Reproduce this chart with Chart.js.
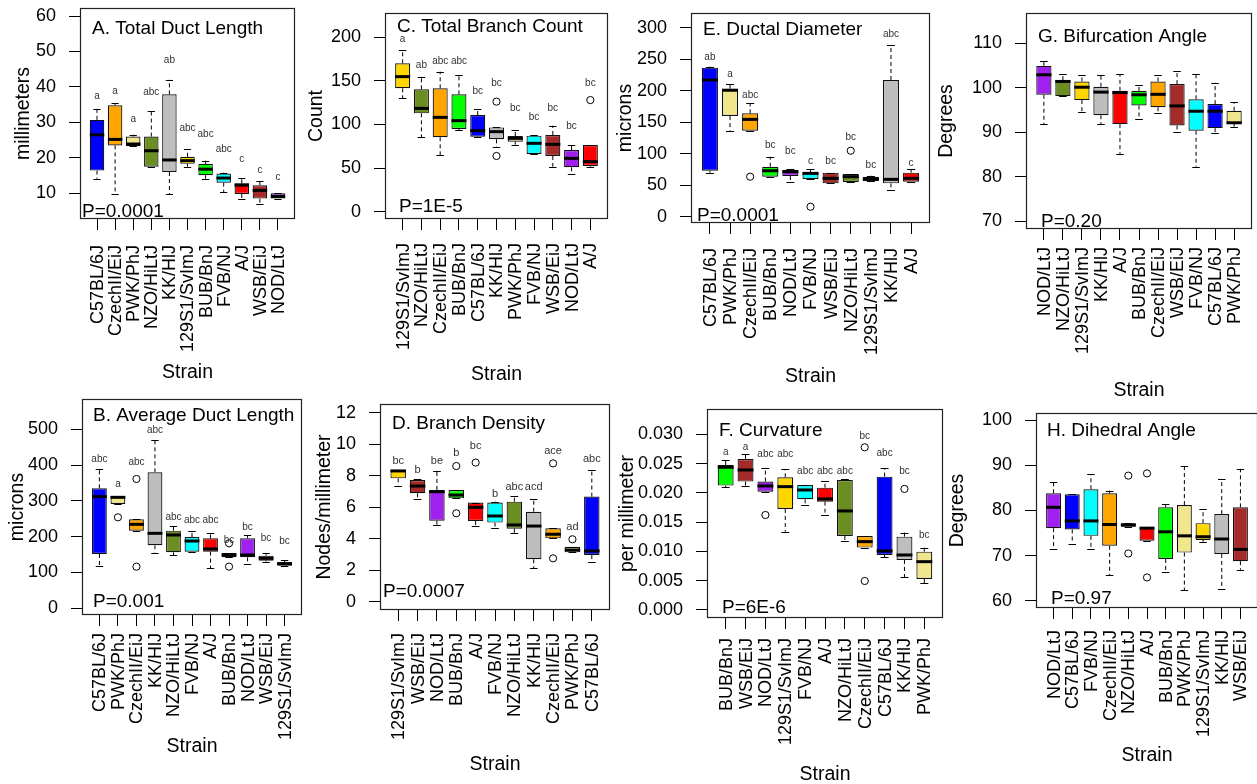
<!DOCTYPE html>
<html><head><meta charset="utf-8">
<script src="https://cdn.jsdelivr.net/npm/chart.js@4.4.1/dist/chart.umd.min.js"></script>
<style>
html,body{margin:0;padding:0;background:#fff;}
body{width:1257px;height:784px;overflow:hidden;position:relative;}
canvas{position:absolute;}
</style>
</head><body>
<script>
// ---------- DATA ----------
// A. Total Duct Length
const strainsA = ['C57BL/6J','CzechII/EiJ','PWK/PhJ','NZO/HiLtJ','KK/HlJ','129S1/SvImJ','BUB/BnJ','FVB/NJ','A/J','WSB/EiJ','NOD/LtJ'];
const lowA  = [14.1, 9.8, 23.3, 17.5, 9.8, 17.5, 14.1, 10.4, 8.3, 7.0, 8.5];
const q1A   = [16.4, 23.5, 23.3, 17.5, 16.0, 18.3, 15.1, 13.0, 9.8, 8.5, 8.5];
const medA  = [26.5, 25.2, 23.9, 22.0, 19.4, 19.2, 16.8, 14.3, 12.3, 10.8, 9.1];
const q3A   = [30.7, 34.8, 26.0, 26.0, 37.9, 20.3, 18.3, 15.6, 12.8, 12.3, 10.0];
const highA = [33.9, 35.4, 26.5, 33.1, 42.0, 22.4, 19.2, 15.8, 14.3, 13.4, 10.0];
const outA  = [[],[],[],[],[],[],[],[],[],[],[]];
const lettersA = ['a','a','a','abc','ab','abc','abc','abc','c','c','c'];
const letterYA = [37.5, 38.9, 30.9, 38.4, 47.6, 28.3, 26.6, 22.4, 19.6, 16.6, 14.5];
const ticksA = [10,20,30,40,50,60];

// C. Total Branch Count
const strainsC = ['129S1/SvImJ','NZO/HiLtJ','CzechII/EiJ','BUB/BnJ','C57BL/6J','KK/HlJ','PWK/PhJ','FVB/NJ','WSB/EiJ','NOD/LtJ','A/J'];
const lowC  = [130, 85.3, 65, 93.7, 85.3, 74.6, 76.9, 66.2, 51.6, 43.2, 51.6];
const q1C   = [141.5, 112.8, 85.3, 94.8, 86, 83, 80.3, 66.2, 63.9, 50.9, 52.4];
const medC  = [154.9, 118.5, 108.2, 104.4, 92.9, 91.8, 84.1, 78.4, 77.2, 61.2, 57.4];
const q3C   = [170.2, 140.3, 141.5, 134.6, 110.9, 96.7, 86.8, 87.2, 88, 70.7, 76.5];
const highC = [185.5, 154, 160.6, 156.8, 117.8, 96.7, 93.7, 88, 98.7, 76.5, 76.5];
const outC  = [[],[],[],[],[],[126.2,63.9],[],[],[],[],[128]];
const lettersC = ['a','ab','abc','abc','bc','bc','bc','bc','bc','bc','bc'];
const letterYC = [198, 167.9, 172.8, 172.8, 137.7, 147.2, 118.5, 108.2, 118.5, 98.3, 147.2];
const ticksC = [0,50,100,150,200];

// E. Ductal Diameter
const strainsE = ['C57BL/6J','PWK/PhJ','CzechII/EiJ','BUB/BnJ','NOD/LtJ','FVB/NJ','WSB/EiJ','NZO/HiLtJ','129S1/SvImJ','KK/HlJ','A/J'];
const lowE  = [70, 136.7, 136.7, 63.6, 55.6, 59.9, 53, 55.1, 56.7, 42.4, 55.6];
const q1E   = [73.1, 160, 136.7, 63.6, 64.7, 59.9, 53, 55.1, 56.7, 53, 55.6];
const medE  = [217.3, 201, 154.7, 73.1, 71.5, 68.9, 61, 63.6, 59.9, 59.4, 61];
const q3E   = [236.9, 203.5, 164.3, 79.5, 74.2, 70, 70, 67.8, 63.6, 217.3, 70];
const highE = [238.5, 211, 180.2, 95.4, 75.3, 75.3, 70, 67.8, 65.2, 272.9, 75.3];
const outE  = [[],[],[63.6],[],[],[15.9],[],[104.9],[],[],[]];
const lettersE = ['ab','a','abc','bc','bc','c','bc','bc','bc','abc','c'];
const letterYE = [253.3, 226.8, 193.4, 112.9, 103.3, 88.5, 88.5, 125.6, 81.1, 289.9, 84.8];
const ticksE = [0,50,100,150,200,250,300];

// G. Bifurcation Angle
const strainsG = ['NOD/LtJ','NZO/HiLtJ','129S1/SvImJ','KK/HlJ','A/J','BUB/BnJ','CzechII/EiJ','WSB/EiJ','FVB/NJ','C57BL/6J','PWK/PhJ'];
const lowG  = [91.8, 98.1, 94.6, 91.8, 85.1, 93.0, 94.4, 90.1, 82.2, 89.7, 91.2];
const q1G   = [98.4, 98.1, 97.2, 93.8, 91.8, 96.0, 95.6, 91.5, 90.3, 90.9, 91.8];
const medG  = [102.9, 101.4, 100.1, 99.0, 98.9, 98.4, 98.5, 95.9, 94.7, 94.7, 92.1];
const q3G   = [104.9, 101.7, 101.4, 100.2, 99.3, 99.3, 101.4, 100.8, 97.4, 96.3, 94.8];
const highG = [106.0, 103.1, 102.8, 102.9, 103.1, 100.5, 102.8, 103.7, 103.1, 101.1, 96.7];
const outG  = [[],[],[],[],[],[],[],[],[],[],[]];
const lettersG = [];
const letterYG = [];
const ticksG = [70,80,90,100,110];

// B. Average Duct Length
const strainsB = ['C57BL/6J','PWK/PhJ','CzechII/EiJ','KK/HlJ','NZO/HiLtJ','FVB/NJ','A/J','BUB/BnJ','NOD/LtJ','WSB/EiJ','129S1/SvImJ'];
const lowB  = [119.2, 291.4, 216.9, 155.5, 148, 158.3, 111.7, 142.5, 122.9, 130.4, 119.2];
const q1B   = [151.8, 291.4, 216.9, 176, 156.4, 158.3, 158.3, 142.5, 142.5, 133.1, 119.2];
const medB  = [311.9, 310, 234.6, 209.5, 204.8, 188, 165.7, 149, 149, 139.7, 124.8];
const q3B   = [335.2, 313.8, 248.6, 379.9, 216.9, 199.3, 195.5, 154.6, 195.5, 147.1, 128.5];
const highB = [389.2, 313.8, 248.6, 470.2, 230.9, 216.9, 211.4, 154.6, 204.8, 153.6, 135];
const outB  = [[],[254.2],[361.3,116.4],[],[],[],[],[181.6,116.4],[],[],[]];
const lettersB = ['abc','a','abc','abc','abc','abc','abc','bc','bc','bc','bc'];
const letterYB = [417.1, 346.4, 407.8, 496.3, 255.1, 246.7, 246.7, 190.9, 226.3, 195.5, 186.2];
const ticksB = [0,100,200,300,400,500];

// D. Branch Density
const strainsD = ['129S1/SvImJ','WSB/EiJ','NOD/LtJ','BUB/BnJ','A/J','FVB/NJ','NZO/HiLtJ','KK/HlJ','CzechII/EiJ','PWK/PhJ','C57BL/6J'];
const lowD  = [7.37, 6.5, 4.87, 6.56, 4.8, 4.66, 4.34, 2.12, 4.02, 3.13, 2.54];
const q1D   = [7.83, 6.88, 5.14, 6.56, 5.12, 5.02, 4.63, 2.69, 4.02, 3.13, 2.96];
const medD  = [8.30, 7.34, 6.98, 6.77, 5.99, 5.44, 4.87, 4.8, 4.28, 3.28, 3.22];
const q3D   = [8.36, 7.72, 7.09, 7.09, 6.29, 6.29, 6.35, 5.71, 4.66, 3.49, 6.67];
const highD = [8.36, 7.77, 8.32, 7.09, 6.29, 6.35, 6.73, 6.52, 4.66, 3.49, 8.36];
const outD  = [[],[],[],[8.61,5.61],[8.83],[],[],[],[8.78,2.75],[3.96],[]];
const lettersD = ['bc','b','be','b','bc','b','abc','acd','ace','ad','abc'];
const letterYD = [8.93, 8.36, 8.93, 9.46, 9.9, 6.84, 7.3, 7.3, 9.59, 4.76, 9.04];
const ticksD = [0,2,4,6,8,10,12];

// F. Curvature
const strainsF = ['BUB/BnJ','WSB/EiJ','NOD/LtJ','129S1/SvImJ','FVB/NJ','A/J','NZO/HiLtJ','CzechII/EiJ','C57BL/6J','KK/HlJ','PWK/PhJ'];
const lowF  = [0.02095, 0.02124, 0.02021, 0.01338, 0.01793, 0.01622, 0.01178, 0.01065, 0.0090, 0.00558, 0.00455];
const q1F   = [0.02124, 0.02192, 0.02021, 0.01725, 0.0189, 0.0185, 0.01264, 0.01065, 0.00939, 0.00854, 0.00529];
const medF  = [0.02437, 0.02391, 0.02118, 0.02106, 0.02049, 0.01896, 0.01691, 0.01167, 0.01008, 0.00939, 0.00825];
const q3F   = [0.02476, 0.02579, 0.02192, 0.02266, 0.02135, 0.02089, 0.0222, 0.01264, 0.02277, 0.01252, 0.00996];
const highF = [0.02562, 0.02659, 0.02431, 0.02402, 0.02135, 0.02203, 0.02232, 0.01264, 0.0242, 0.01321, 0.01065];
const outF  = [[],[],[0.01622],[],[],[],[],[0.02778,0.00495],[],[0.02067],[]];
const lettersF = ['a','a','abc','abc','abc','abc','abc','bc','abc','bc','bc'];
const letterYF = [0.02687, 0.02778, 0.02664, 0.02664, 0.02374, 0.02374, 0.02374, 0.02972, 0.02676, 0.02374, 0.01281];
const ticksF = [0,0.005,0.010,0.015,0.020,0.025,0.030];

// H. Dihedral Angle
const strainsH = ['NOD/LtJ','C57BL/6J','FVB/NJ','CzechII/EiJ','NZO/HiLtJ','A/J','BUB/BnJ','PWK/PhJ','129S1/SvImJ','KK/HlJ','WSB/EiJ'];
const lowH  = [71.6, 72.7, 71.4, 65.7, 76.4, 73.3, 66.3, 62.4, 73.1, 62.7, 66.9];
const q1H   = [76.1, 75.8, 74.4, 72.2, 76.4, 73.3, 69.3, 70.7, 73.5, 70.4, 68.8];
const medH  = [80.7, 77.7, 77.7, 76.9, 76.8, 76.1, 75.3, 74.4, 74.2, 73.7, 71.4];
const q3H   = [83.8, 83.6, 84.7, 83.8, 77.2, 76.3, 80.7, 81.2, 77.2, 79.2, 80.7];
const highH = [86.2, 83.6, 88.0, 84.4, 77.2, 76.3, 81.4, 89.8, 80.3, 86.9, 89.2];
const outH  = [[],[],[],[],[87.7,70.5],[88.2,65.2],[],[],[],[],[]];
const lettersH = [];
const letterYH = [];
const ticksH = [60,70,80,90,100];

// ---------- STYLE ----------
const strainColors = {
  'C57BL/6J':'#0000FF','CzechII/EiJ':'#FFA500','PWK/PhJ':'#F0E68C','NZO/HiLtJ':'#6B8E23',
  'KK/HlJ':'#BEBEBE','129S1/SvImJ':'#FFD700','BUB/BnJ':'#00FF00','FVB/NJ':'#00FFFF',
  'A/J':'#FF0000','WSB/EiJ':'#A52A2A','NOD/LtJ':'#A020F0'
};
const FONT = "'Liberation Sans', Arial, Helvetica, sans-serif";
Chart.defaults.font.family = FONT;
Chart.defaults.color = '#000';

const panels = [
  {title:'A. Total Duct Length', p:'P=0.0001', ylab:'millimeters', strains:strainsA, lo:lowA, q1:q1A, med:medA, q3:q3A, hi:highA, out:outA, letters:lettersA, letterY:letterYA, ticks:ticksA,
   ymin:2.75, ymax:62.26, box:[80,8,295,219], yTitleX:24, strainY:373, tDx:12, tDy:19, pDx:2, pDy:9, xGap:26, letterSize:10},
  {title:'C. Total Branch Count', p:'P=1E-5', ylab:'Count', strains:strainsC, lo:lowC, q1:q1C, med:medC, q3:q3C, hi:highC, out:outC, letters:lettersC, letterY:letterYC, ticks:ticksC,
   ymin:-8.4, ymax:227.9, box:[385,13,608,219], yTitleX:317, strainY:375, tDx:12, tDy:12, pDx:14, pDy:14, xGap:24, letterSize:10},
  {title:'E. Ductal Diameter', p:'P=0.0001', ylab:'microns', strains:strainsE, lo:lowE, q1:q1E, med:medE, q3:q3E, hi:highE, out:outE, letters:lettersE, letterY:letterYE, ticks:ticksE,
   ymin:-10, ymax:323.8, box:[691,13,930,223], yTitleX:626, strainY:377, tDx:12, tDy:15, pDx:6, pDy:9, xGap:25, letterSize:10},
  {title:'G. Bifurcation Angle', p:'P=0.20', ylab:'Degrees', strains:strainsG, lo:lowG, q1:q1G, med:medG, q3:q3G, hi:highG, out:outG, letters:lettersG, letterY:letterYG, ticks:ticksG,
   ymin:68.2, ymax:116.8, box:[1026,13,1252,229], yTitleX:947, strainY:391, tDx:12, tDy:22, pDx:15, pDy:9, xGap:18, letterSize:10},
  {title:'B. Average Duct Length', p:'P=0.001', ylab:'microns', strains:strainsB, lo:lowB, q1:q1B, med:medB, q3:q3B, hi:highB, out:outB, letters:lettersB, letterY:letterYB, ticks:ticksB,
   ymin:-18.7, ymax:584.7, box:[82,399,302,615], yTitleX:18, strainY:747, tDx:11, tDy:15, pDx:11, pDy:15, xGap:18, letterSize:10},
  {title:'D. Branch Density', p:'P=0.0007', ylab:'Nodes/millimeter', strains:strainsD, lo:lowD, q1:q1D, med:medD, q3:q3D, hi:highD, out:outD, letters:lettersD, letterY:letterYD, ticks:ticksD,
   ymin:-0.53, ymax:12.55, box:[380,404,610,610], yTitleX:325, strainY:765, tDx:12, tDy:18, pDx:3, pDy:20, xGap:23, letterSize:11},
  {title:'F. Curvature', p:'P=6E-6', ylab:'per millimeter', strains:strainsF, lo:lowF, q1:q1F, med:medF, q3:q3F, hi:highF, out:outF, letters:lettersF, letterY:letterYF, ticks:ticksF,
   ymin:-0.00137, ymax:0.03432, box:[707,409,943,618], yTitleX:628, strainY:775, tDx:12, tDy:20, pDx:15, pDy:12, xGap:20, letterSize:10, fmt:v=>v.toFixed(3)},
  {title:'H. Dihedral Angle', p:'P=0.97', ylab:'Degrees', strains:strainsH, lo:lowH, q1:q1H, med:medH, q3:q3H, hi:highH, out:outH, letters:lettersH, letterY:letterYH, ticks:ticksH,
   ymin:58.45, ymax:101.55, box:[1036,413,1258,608], yTitleX:958, strainY:756, tDx:11, tDy:16, pDx:15, pDy:11, xGap:22, letterSize:10}
];

function makePanel(cfg){
  const [L,T,R,B] = cfg.box;
  const ML=95, MT=12, MR=12, MB=185;
  const W=(R-L)+ML+MR, H=(B-T)+MT+MB;
  const cL=L-ML, cT=T-MT;
  const cv=document.createElement('canvas');
  cv.width=W; cv.height=H;
  cv.style.left=cL+'px'; cv.style.top=cT+'px';
  cv.style.width=W+'px'; cv.style.height=H+'px';
  document.body.appendChild(cv);
  const n=cfg.strains.length;
  const outPts=[];
  cfg.out.forEach((arr,i)=>arr.forEach(v=>outPts.push({x:i+1,y:v})));

  const boxPlugin={
    id:'boxextras',
    afterDatasetsDraw(chart){
      const ctx=chart.ctx, a=chart.chartArea, ys=chart.scales.y;
      const meta=chart.getDatasetMeta(0);
      ctx.save();
      ctx.strokeStyle='#000';
      cfg.strains.forEach((s,i)=>{
        const bar=meta.data[i]; const cx=bar.x; const hw=bar.width/2;
        const pq1=ys.getPixelForValue(cfg.q1[i]), pq3=ys.getPixelForValue(cfg.q3[i]);
        const plo=ys.getPixelForValue(cfg.lo[i]), phi=ys.getPixelForValue(cfg.hi[i]);
        const pm=ys.getPixelForValue(cfg.med[i]);
        ctx.lineWidth=1;
        ctx.setLineDash([4,3]);
        ctx.beginPath();
        if(cfg.hi[i]>cfg.q3[i]){ctx.moveTo(cx,pq3);ctx.lineTo(cx,phi);}
        if(cfg.lo[i]<cfg.q1[i]){ctx.moveTo(cx,pq1);ctx.lineTo(cx,plo);}
        ctx.stroke();
        ctx.setLineDash([]);
        ctx.beginPath();
        ctx.moveTo(cx-hw/2,Math.round(phi)+0.5);ctx.lineTo(cx+hw/2,Math.round(phi)+0.5);
        ctx.moveTo(cx-hw/2,Math.round(plo)+0.5);ctx.lineTo(cx+hw/2,Math.round(plo)+0.5);
        ctx.stroke();
        ctx.lineWidth=3;
        ctx.beginPath();ctx.moveTo(cx-hw,pm);ctx.lineTo(cx+hw,pm);ctx.stroke();
      });
      // group letters
      ctx.fillStyle='#333';
      ctx.font=cfg.letterSize+'px '+FONT;
      ctx.textAlign='center'; ctx.textBaseline='middle';
      cfg.letters.forEach((t,i)=>{
        const cx=meta.data[i].x;
        ctx.fillText(t,cx,ys.getPixelForValue(cfg.letterY[i]));
      });
      ctx.restore();
    },
    afterDraw(chart){
      const ctx=chart.ctx, a=chart.chartArea, xs=chart.scales.x;
      ctx.save();
      ctx.strokeStyle='#222'; ctx.lineWidth=1.2;
      ctx.strokeRect(Math.round(a.left)+0.5,Math.round(a.top)+0.5,Math.round(a.right-a.left)-1,Math.round(a.bottom-a.top)-1);
      ctx.fillStyle='#000';
      // x category labels, rotated (read bottom to top)
      ctx.font='18px '+FONT;
      ctx.textAlign='right'; ctx.textBaseline='middle';
      cfg.strains.forEach((s,i)=>{
        const px=xs.getPixelForValue(i+1);
        ctx.save();
        ctx.translate(px+1,a.bottom+cfg.xGap);
        ctx.rotate(-Math.PI/2);
        ctx.fillText(s,0,0);
        ctx.restore();
      });
      ctx.textBaseline='alphabetic'; ctx.textAlign='left';
      ctx.font='19px '+FONT;
      ctx.fillText(cfg.title,a.left+cfg.tDx,a.top+cfg.tDy+0.36*19);
      ctx.font='19px '+FONT;
      ctx.fillText(cfg.p,a.left+cfg.pDx,a.bottom-cfg.pDy+0.36*19);
      ctx.font='19.5px '+FONT;
      ctx.textAlign='center'; ctx.textBaseline='middle';
      ctx.fillText('Strain',(a.left+a.right)/2,cfg.strainY-cT);
      ctx.translate(cfg.yTitleX-cL,(a.top+a.bottom)/2);
      ctx.rotate(-Math.PI/2);
      ctx.fillText(cfg.ylab,0,0);
      ctx.restore();
    }
  };

  new Chart(cv,{
    type:'bar',
    data:{datasets:[
      {type:'bar',data:cfg.strains.map((s,i)=>({x:i+1,y:[cfg.q1[i],cfg.q3[i]]})),
       backgroundColor:cfg.strains.map(s=>strainColors[s]),borderColor:'#111',borderWidth:1.2,borderSkipped:false,
       barPercentage:0.8,categoryPercentage:1,order:2},
      {type:'scatter',data:outPts,pointRadius:3.6,pointBorderColor:'#000',pointBackgroundColor:'rgba(0,0,0,0)',
       pointBorderWidth:1,showLine:false,order:1}
    ]},
    options:{
      responsive:false,animation:false,devicePixelRatio:1,
      layout:{padding:{top:MT,right:MR,left:0,bottom:0}},
      plugins:{legend:{display:false},tooltip:{enabled:false}},
      scales:{
        x:{type:'linear',min:0.06,max:n+0.94,offset:false,
          afterBuildTicks:s=>{s.ticks=cfg.strains.map((_,i)=>({value:i+1}));},
          afterFit:s=>{s.height=MB;s.paddingLeft=0;s.paddingRight=0;s.paddingTop=0;s.paddingBottom=0;},
          grid:{display:true,drawOnChartArea:false,drawTicks:true,tickLength:11,color:'#000',lineWidth:1,offset:false},
          border:{display:false},
          ticks:{display:false,autoSkip:false}},
        y:{type:'linear',min:cfg.ymin,max:cfg.ymax,
          afterBuildTicks:s=>{s.ticks=cfg.ticks.map(v=>({value:v}));},
          afterFit:s=>{s.width=ML;s.paddingTop=0;s.paddingBottom=0;s.paddingLeft=0;s.paddingRight=0;},
          grid:{display:true,drawOnChartArea:false,drawTicks:true,tickLength:11,color:'#000',lineWidth:1},
          border:{display:false},
          ticks:{padding:13,color:'#000',font:{size:18},callback:cfg.fmt||(v=>String(v))}}
      }
    },
    plugins:[boxPlugin]
  });
}
panels.forEach(makePanel);
</script>
</body></html>
